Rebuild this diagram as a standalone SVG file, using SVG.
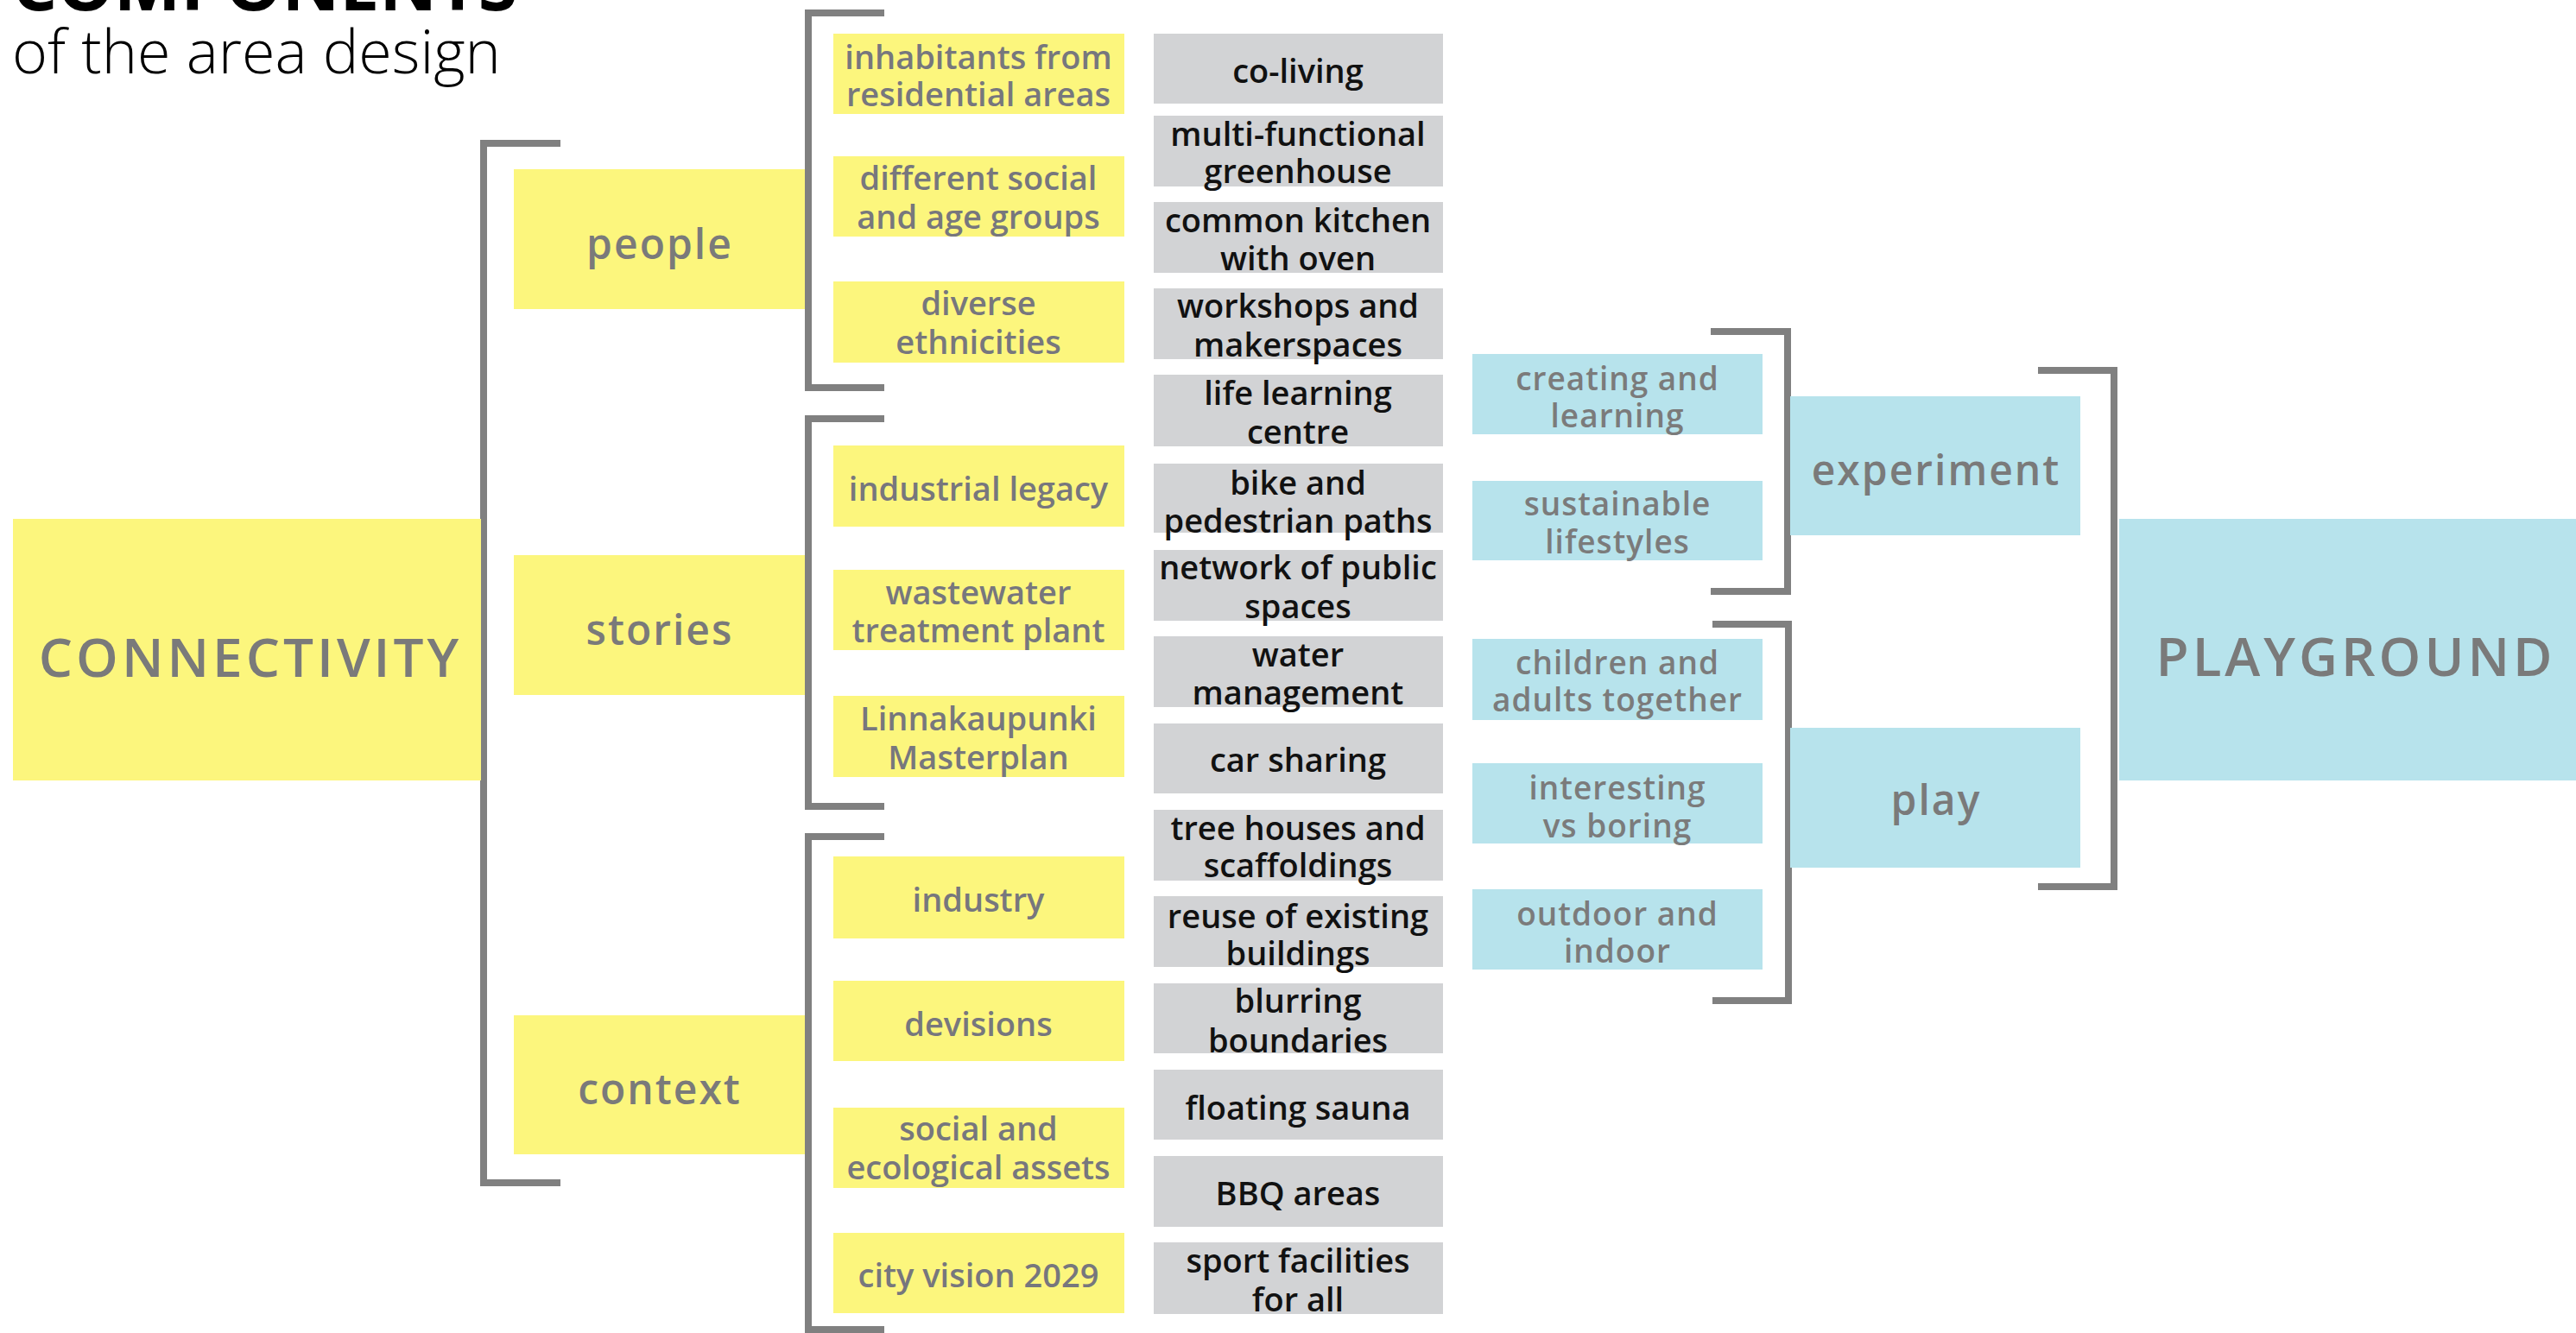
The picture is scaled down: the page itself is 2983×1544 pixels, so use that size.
<svg xmlns="http://www.w3.org/2000/svg" width="2983" height="1544" viewBox="0 0 2983 1544">
<style>
.y{fill:#fcf67d}
.g{fill:#d2d3d5}
.b{fill:#b7e3ec}
.br{fill:none;stroke:#808080;stroke-width:8;stroke-linejoin:miter;stroke-linecap:butt}
.main{font-family:"Open Sans","Noto Sans",sans-serif;font-weight:600;fill:#7a7a7a;text-anchor:middle}
.big{font-size:62px;letter-spacing:4px}
.mid{font-size:48px;letter-spacing:2px}
.yt{font-family:"Open Sans","Noto Sans",sans-serif;font-weight:600;font-size:38px;fill:#77777d;text-anchor:middle}
.gt{font-family:"Open Sans","Noto Sans",sans-serif;font-weight:600;font-size:38px;fill:#111111;text-anchor:middle}
.bt{font-family:"Open Sans","Noto Sans",sans-serif;font-weight:600;font-size:37px;letter-spacing:1px;fill:#7b7b7b;text-anchor:middle}
.title{font-family:"Open Sans","Noto Sans",sans-serif;fill:#000}
</style>
<rect width="2983" height="1544" fill="#ffffff"/>
<g id="title">
<text class="title" x="14" y="12" font-size="80" font-weight="700" textLength="585" lengthAdjust="spacingAndGlyphs">COMPONENTS</text>
<text class="title" x="14" y="85" font-size="70" font-weight="300">of the area design</text>
</g>
<g id="connectors">
<path class="br" d="M649 166 H560 V1370 H649"/>
<path class="br" d="M1024 15 H936 V449 H1024"/>
<path class="br" d="M1024 485 H936 V934 H1024"/>
<path class="br" d="M1024 969 H936 V1540 H1024"/>
<path class="br" d="M1981 384 H2070 V685 H1981"/>
<path class="br" d="M1983 723 H2071 V1159 H1983"/>
<path class="br" d="M2360 429 H2448 V1027 H2360"/>
</g>
<g id="n-connectivity"><rect class="y" x="15" y="601" width="542" height="303"/><text class="main big" x="290" y="784">CONNECTIVITY</text></g>
<g id="n-people"><rect class="y" x="595" y="196" width="337" height="162"/><text class="main mid" x="764" y="300">people</text></g>
<g id="n-stories"><rect class="y" x="595" y="643" width="337" height="162"/><text class="main mid" x="764" y="747">stories</text></g>
<g id="n-context"><rect class="y" x="595" y="1176" width="337" height="161"/><text class="main mid" x="764" y="1279">context</text></g>

<g id="n-inhabitants"><rect class="y" x="965" y="39" width="337" height="93"/><text class="yt" x="1133" y="80">inhabitants from</text><text class="yt" x="1133" y="123">residential areas</text></g>
<g id="n-different"><rect class="y" x="965" y="181" width="337" height="93"/><text class="yt" x="1133" y="220">different social</text><text class="yt" x="1133" y="265">and age groups</text></g>
<g id="n-diverse"><rect class="y" x="965" y="326" width="337" height="94"/><text class="yt" x="1133" y="365">diverse</text><text class="yt" x="1133" y="410">ethnicities</text></g>
<g id="n-industrial"><rect class="y" x="965" y="516" width="337" height="94"/><text class="yt" x="1133" y="580">industrial legacy</text></g>
<g id="n-wastewater"><rect class="y" x="965" y="660" width="337" height="93"/><text class="yt" x="1133" y="700">wastewater</text><text class="yt" x="1133" y="744">treatment plant</text></g>
<g id="n-linnakaupunki"><rect class="y" x="965" y="806" width="337" height="94"/><text class="yt" x="1133" y="846">Linnakaupunki</text><text class="yt" x="1133" y="891">Masterplan</text></g>
<g id="n-industry"><rect class="y" x="965" y="992" width="337" height="95"/><text class="yt" x="1133" y="1056">industry</text></g>
<g id="n-devisions"><rect class="y" x="965" y="1136" width="337" height="93"/><text class="yt" x="1133" y="1200">devisions</text></g>
<g id="n-social"><rect class="y" x="965" y="1283" width="337" height="93"/><text class="yt" x="1133" y="1321">social and</text><text class="yt" x="1133" y="1366">ecological assets</text></g>
<g id="n-cityvision"><rect class="y" x="965" y="1428" width="337" height="93"/><text class="yt" x="1133" y="1491">city vision 2029</text></g>

<g id="n-coliving"><rect class="g" x="1336" y="39" width="335" height="81"/><text class="gt" x="1503" y="96">co-living</text></g>
<g id="n-greenhouse"><rect class="g" x="1336" y="134" width="335" height="82"/><text class="gt" x="1503" y="169">multi-functional</text><text class="gt" x="1503" y="212">greenhouse</text></g>
<g id="n-kitchen"><rect class="g" x="1336" y="234" width="335" height="82"/><text class="gt" x="1503" y="269">common kitchen</text><text class="gt" x="1503" y="313">with oven</text></g>
<g id="n-workshops"><rect class="g" x="1336" y="334" width="335" height="82"/><text class="gt" x="1503" y="368">workshops and</text><text class="gt" x="1503" y="413">makerspaces</text></g>
<g id="n-lifelearning"><rect class="g" x="1336" y="434" width="335" height="83"/><text class="gt" x="1503" y="469">life learning</text><text class="gt" x="1503" y="514">centre</text></g>
<g id="n-bike"><rect class="g" x="1336" y="537" width="335" height="80"/><text class="gt" x="1503" y="573">bike and</text><text class="gt" x="1503" y="617">pedestrian paths</text></g>
<g id="n-network"><rect class="g" x="1336" y="637" width="335" height="82"/><text class="gt" x="1503" y="671">network of public</text><text class="gt" x="1503" y="716">spaces</text></g>
<g id="n-water"><rect class="g" x="1336" y="737" width="335" height="82"/><text class="gt" x="1503" y="772">water</text><text class="gt" x="1503" y="816">management</text></g>
<g id="n-carsharing"><rect class="g" x="1336" y="838" width="335" height="81"/><text class="gt" x="1503" y="894">car sharing</text></g>
<g id="n-treehouses"><rect class="g" x="1336" y="938" width="335" height="82"/><text class="gt" x="1503" y="973">tree houses and</text><text class="gt" x="1503" y="1016">scaffoldings</text></g>
<g id="n-reuse"><rect class="g" x="1336" y="1038" width="335" height="82"/><text class="gt" x="1503" y="1075">reuse of existing</text><text class="gt" x="1503" y="1118">buildings</text></g>
<g id="n-blurring"><rect class="g" x="1336" y="1139" width="335" height="81"/><text class="gt" x="1503" y="1173">blurring</text><text class="gt" x="1503" y="1219">boundaries</text></g>
<g id="n-sauna"><rect class="g" x="1336" y="1239" width="335" height="81"/><text class="gt" x="1503" y="1297">floating sauna</text></g>
<g id="n-bbq"><rect class="g" x="1336" y="1339" width="335" height="82"/><text class="gt" x="1503" y="1396">BBQ areas</text></g>
<g id="n-sport"><rect class="g" x="1336" y="1439" width="335" height="83"/><text class="gt" x="1503" y="1474">sport facilities</text><text class="gt" x="1503" y="1519">for all</text></g>

<g id="n-creating"><rect class="b" x="1705" y="410" width="336" height="93"/><text class="bt" x="1873" y="452">creating and</text><text class="bt" x="1873" y="495">learning</text></g>
<g id="n-sustainable"><rect class="b" x="1705" y="557" width="336" height="92"/><text class="bt" x="1873" y="597">sustainable</text><text class="bt" x="1873" y="641">lifestyles</text></g>
<g id="n-children"><rect class="b" x="1705" y="740" width="336" height="94"/><text class="bt" x="1873" y="781">children and</text><text class="bt" x="1873" y="824">adults together</text></g>
<g id="n-interesting"><rect class="b" x="1705" y="884" width="336" height="93"/><text class="bt" x="1873" y="926">interesting</text><text class="bt" x="1873" y="970">vs boring</text></g>
<g id="n-outdoor"><rect class="b" x="1705" y="1030" width="336" height="93"/><text class="bt" x="1873" y="1072">outdoor and</text><text class="bt" x="1873" y="1115">indoor</text></g>

<g id="n-experiment"><rect class="b" x="2073" y="459" width="336" height="161"/><text class="main mid" x="2242" y="562">experiment</text></g>
<g id="n-play"><rect class="b" x="2073" y="843" width="336" height="162"/><text class="main mid" x="2242" y="944">play</text></g>
<g id="n-playground"><rect class="b" x="2454" y="601" width="529" height="303"/><text class="main big" x="2728" y="783">PLAYGROUND</text></g>
</svg>
